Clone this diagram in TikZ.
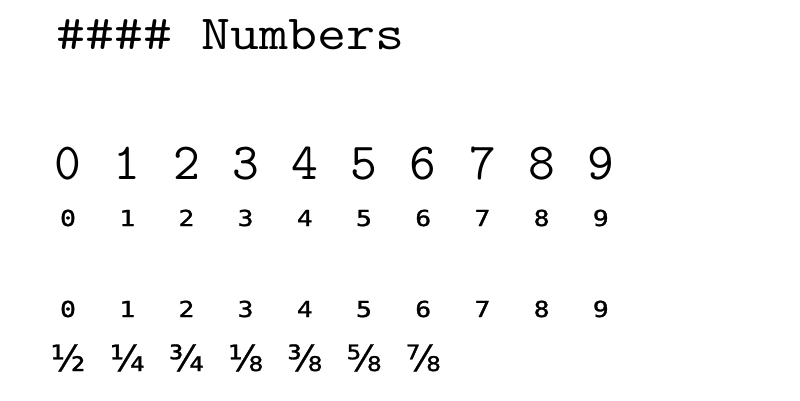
\documentclass[tikz,border=0pt]{standalone}
\usepackage{fontspec}
\setmonofont{Latin Modern Mono}
\newfontfamily\smallmono[FakeBold=1.2]{DejaVu Sans Mono}
\newfontfamily\fracfont[FakeBold=0.8]{DejaVu Sans}
\begin{document}
\begin{tikzpicture}[x=1pt,y=-1pt,
  head/.style={inner sep=0pt,anchor=base west,font=\fontsize{49}{56}\selectfont\ttfamily},
  big/.style={inner sep=0pt,anchor=base,font=\fontsize{52}{60}\selectfont\ttfamily},
  sml/.style={inner sep=0pt,anchor=base,font=\fontsize{22}{26}\selectfont\smallmono},
  frac/.style={inner sep=0pt,anchor=base,font=\fontsize{36}{40}\selectfont\fracfont}]
\useasboundingbox (0,0) rectangle (800,400);
\node[head] (title) at (56,49) {\scalebox{1.15}[1]{\#\#\#\# Numbers}};
\foreach \d [count=\i from 0] in {0,...,9} {
  \node[big] (L\d) at (68+59.2*\i,179) {\d};
  \node[sml] (A\d) at (68+59.2*\i,226) {\scalebox{1.2}[1]{\d}};
  \node[sml] (B\d) at (68+59.2*\i,317) {\scalebox{1.2}[1]{\d}};
}
\foreach \f [count=\i from 0] in {½,¼,¾,⅛,⅜,⅝,⅞} {
  \node[frac] (F\i) at (68+59.2*\i,371) {\f};
}
\end{tikzpicture}
\end{document}
